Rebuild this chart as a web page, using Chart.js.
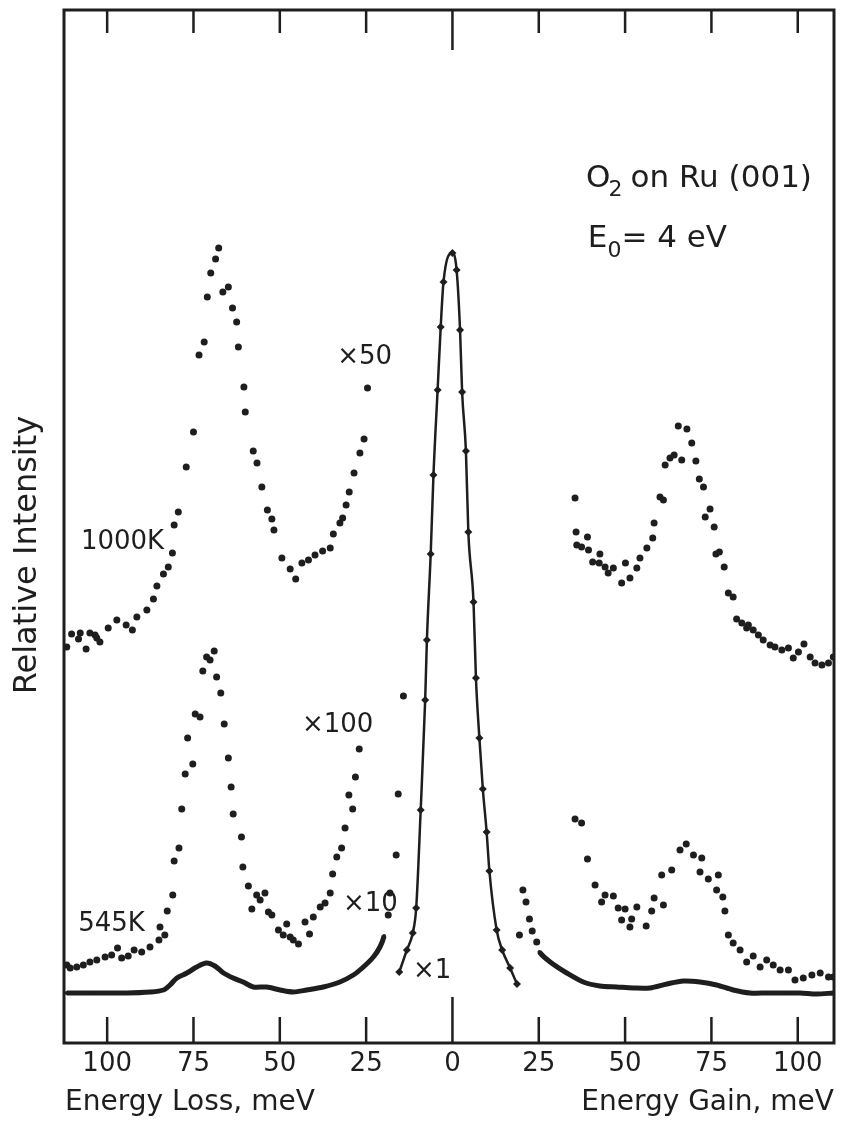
<!DOCTYPE html>
<html>
<head>
<meta charset="utf-8">
<script src="https://cdn.jsdelivr.net/npm/chart.js@4.4.0/dist/chart.umd.min.js"></script>
<style>
  html, body { margin: 0; padding: 0; background: #fff; }
</style>
</head>
<body>
<canvas id="myChart" width="846" height="1122"></canvas>
<script>
// EELS of O2 on Ru(001), E0 = 4 eV
// x = energy in meV (negative = loss side, positive = gain side), y = relative intensity (arb. units)
var tickValues = [-100, -75, -50, -25, 0, 25, 50, 75, 100];

// elastic peak, x1
var elastic = [[-15.4,7.1],[-13.2,9.3],[-11.5,11.0],[-10.5,13.5],[-9.2,23.3],[-7.9,34.3],[-7.4,40.3],[-6.3,48.9],
  [-5.5,56.8],[-4.3,65.3],[-3.4,71.6],[-2.6,76.1],[0,79.0],[1.2,77.3],[2.2,71.3],[2.8,65.1],[3.9,59.2],[4.6,51.1],
  [6.1,44.1],[6.8,36.5],[7.8,30.5],[8.8,25.4],[9.9,21.1],[10.7,17.2],[12.8,11.3],[14.4,9.3],[16.7,7.5],[18.7,5.9]];

// 1000 K, x50
var loss50 = [[-111.7,39.6],[-110.3,40.9],[-108.3,40.4],[-107.8,41.0],[-106.1,39.4],[-105.0,41.0],[-103.5,40.8],
  [-103.0,40.5],[-102.1,40.1],[-99.7,41.5],[-97.2,42.3],[-94.5,41.8],[-92.7,41.3],[-91.4,42.6],[-88.5,43.3],
  [-86.6,44.4],[-85.6,45.7],[-83.7,46.9],[-82.3,47.6],[-81.1,49.0],[-80.6,51.8],[-79.4,53.1],[-77.1,57.6],
  [-75.0,61.1],[-73.4,68.8],[-71.9,70.1],[-71.0,74.6],[-70.0,77.0],[-68.6,78.4],[-67.7,79.5],[-66.5,75.1],
  [-64.9,75.6],[-63.7,73.5],[-62.5,72.1],[-62.0,69.6],[-60.4,65.6],[-60.0,63.1],[-57.7,59.2],[-56.6,58.0],
  [-55.2,55.6],[-53.6,53.3],[-52.3,52.4],[-51.7,51.3],[-49.4,48.5],[-47.0,47.4],[-45.4,46.4],[-43.6,48.0],
  [-41.7,48.3],[-39.8,48.8],[-37.6,49.2],[-35.4,49.5],[-34.5,50.9],[-32.6,52.0],[-31.8,52.5],[-30.8,53.8],
  [-29.9,55.1],[-28.5,57.0],[-26.8,59.0],[-25.6,60.4],[-24.6,65.5]];
var gain50 = [[35.5,54.5],[35.8,51.1],[36.0,49.8],[37.4,49.6],[39.1,50.6],[39.4,49.3],[40.6,48.1],[42.5,48.0],
  [42.7,48.9],[44.2,47.6],[45.1,47.0],[46.6,47.5],[49.0,46.0],[50.1,48.0],[51.4,46.5],[53.4,47.5],[54.3,48.5],
  [56.3,49.5],[58.0,50.5],[58.4,52.0],[60.1,54.6],[61.1,54.3],[61.6,57.8],[63.0,58.5],[64.2,58.8],[65.4,61.7],
  [66.4,58.3],[67.9,61.4],[69.3,60.0],[70.5,58.2],[71.5,56.4],[72.7,55.6],[73.2,52.6],[74.6,53.4],[75.8,51.6],
  [76.3,48.9],[77.3,49.1],[78.7,47.6],[79.9,45.0],[81.3,44.6],[82.3,42.4],[83.8,42.0],[85.2,41.5],[85.7,41.8],
  [87.1,41.3],[88.6,40.8],[90.0,40.3],[92.0,39.8],[93.4,39.6],[95.4,39.3],[97.3,39.5],[98.7,38.5],[100.2,39.1],
  [101.8,39.9],[103.6,38.6],[105.0,38.0],[107.0,37.8],[108.9,38.0],[110.3,38.6]];

// 545 K, x100
var loss100 = [[-111.7,7.8],[-110.7,7.5],[-108.8,7.6],[-106.9,7.8],[-105.0,8.1],[-103.0,8.3],[-100.6,8.6],
  [-98.7,8.8],[-97.0,9.5],[-95.8,8.5],[-93.9,8.7],[-92.2,9.3],[-90.0,9.1],[-87.6,9.6],[-85.0,10.3],[-84.7,11.6],
  [-83.3,10.8],[-82.6,13.2],[-81.0,14.8],[-80.6,18.2],[-79.2,19.5],[-78.4,23.4],[-77.4,26.9],[-76.7,30.5],
  [-75.2,27.9],[-74.5,32.9],[-73.1,32.6],[-72.3,37.2],[-71.2,38.6],[-70.2,38.3],[-69.0,39.2],[-68.3,36.6],
  [-67.1,35.0],[-66.1,31.9],[-64.9,28.5],[-64.1,25.6],[-63.5,22.9],[-61.1,20.6],[-60.7,17.6],[-59.1,15.7],
  [-58.1,13.4],[-56.7,14.8],[-55.7,14.3],[-54.3,15.0],[-53.3,13.1],[-52.3,12.8],[-50.4,11.3],[-49.0,10.8],
  [-48.0,11.9],[-47.0,10.6],[-46.1,10.3],[-44.6,9.9],[-42.7,12.1],[-41.4,10.9],[-40.3,12.6],[-38.3,13.6],
  [-36.9,14.0],[-35.4,15.0],[-34.7,16.9],[-33.5,18.6],[-32.1,19.5],[-31.1,21.5],[-30.0,24.8],[-28.9,23.4],
  [-28.1,26.6],[-27.0,29.4]];
var gain100 = [[35.5,22.4],[37.4,22.0],[39.1,18.4],[41.3,15.8],[43.2,14.1],[44.2,14.8],[46.6,14.7],[48.0,13.5],
  [49.0,12.3],[50.0,13.4],[51.4,11.6],[51.9,12.4],[53.4,13.6],[56.1,11.7],[57.7,13.2],[58.4,14.5],[60.6,16.8],
  [61.1,13.8],[63.5,17.3],[65.9,19.3],[67.7,19.9],[69.8,18.8],[71.7,17.1],[72.2,18.5],[74.1,16.4],[76.5,15.3],
  [77.0,16.8],[78.3,14.6],[78.9,13.2],[79.9,10.8],[81.3,10.0],[83.3,9.3],[85.2,8.1],[87.1,8.7],[89.1,7.6],
  [91.0,8.3],[92.9,7.8],[94.9,7.3],[97.3,7.3],[99.2,6.3],[101.6,6.5],[104.1,6.8],[106.5,7.0],[108.9,6.6],
  [110.3,6.6]];

// 545 K, x10
var loss10 = [[-111.7,5.0],[-104.0,5.0],[-94.3,5.0],[-87.6,5.1],[-83.7,5.3],[-81.8,5.8],[-79.8,6.5],[-76.9,7.0],
  [-74.1,7.6],[-71.2,8.0],[-68.8,7.7],[-66.3,7.0],[-63.5,6.5],[-60.6,6.1],[-57.7,5.6],[-53.8,5.6],[-49.9,5.3],
  [-46.1,5.1],[-42.2,5.3],[-37.4,5.6],[-32.6,6.1],[-28.7,6.8],[-25.8,7.6],[-22.9,8.6],[-21.0,9.6],[-19.8,10.7],
  [-18.6,12.8],[-18.1,15.0],[-16.3,18.8],[-15.7,24.9],[-14.2,34.7]];
var gain10 = [[19.4,10.8],[20.4,15.3],[21.3,14.1],[22.3,12.4],[23.1,11.2],[24.4,10.1],[25.2,9.1],[28.3,8.1],
  [33.1,7.0],[37.9,6.1],[42.7,5.7],[47.6,5.6],[52.4,5.5],[57.2,5.5],[62.1,5.9],[66.9,6.2],[71.7,6.1],[76.5,5.8],
  [81.3,5.3],[86.2,5.0],[91.0,5.0],[95.8,5.0],[100.7,5.0],[105.5,4.9],[110.3,5.0]];

var ink = '#1e1e1e';
var font = "'DejaVu Sans', sans-serif";

function pts(arr) {
  return arr.map(function (p) { return { x: p[0], y: p[1] }; });
}

function dots(arr) {
  return {
    data: pts(arr), showLine: false, pointRadius: 3.5, pointBackgroundColor: ink,
    pointBorderWidth: 0, pointHoverRadius: 3.5
  };
}

// x10 curves: the dense run is a solid band, the part close to the elastic peak is loose dots
var loss10Dense = 25, gain10Dense = 6;

var datasets = [
  dots(loss50), dots(gain50), dots(loss100), dots(gain100),
  {
    data: pts(loss10), showLine: true, borderColor: ink, borderWidth: 5, tension: 0.3,
    pointBackgroundColor: ink, pointBorderWidth: 0,
    pointRadius: function (c) { return c.dataIndex > loss10Dense ? 3.5 : 2; },
    segment: { borderColor: function (c) { return c.p1DataIndex > loss10Dense ? 'transparent' : ink; } }
  },
  {
    data: pts(gain10), showLine: true, borderColor: ink, borderWidth: 5, tension: 0.3,
    pointBackgroundColor: ink, pointBorderWidth: 0,
    pointRadius: function (c) { return c.dataIndex < gain10Dense ? 3.5 : 2; },
    segment: { borderColor: function (c) { return c.p0DataIndex < gain10Dense ? 'transparent' : ink; } }
  },
  {
    data: pts(elastic), showLine: true, borderColor: ink, borderWidth: 2.5,
    cubicInterpolationMode: 'monotone',
    pointStyle: 'rectRot', pointRadius: 4, pointBackgroundColor: ink, pointBorderWidth: 0
  }
];

// text labels placed in data coordinates
var notes = [
  { text: '1000K', x: -107.6, y: 50.1 },
  { text: '×50', x: -33.4, y: 68.6 },
  { text: '×100', x: -43.6, y: 31.8 },
  { text: '545K', x: -108.4, y: 11.9 },
  { text: '×10', x: -31.7, y: 13.9 },
  { text: '×1', x: -11.4, y: 7.2 }
];

var framePlugin = {
  id: 'frame',
  afterDraw: function (chart) {
    var ctx = chart.ctx, a = chart.chartArea;
    var xs = chart.scales.x, ys = chart.scales.y;
    ctx.save();
    ctx.strokeStyle = ink;
    ctx.fillStyle = ink;
    ctx.lineWidth = 3;
    ctx.strokeRect(a.left, a.top, a.right - a.left, a.bottom - a.top);

    // inward ticks, top and bottom, longer at zero
    ctx.lineWidth = 2.5;
    tickValues.forEach(function (v) {
      var px = xs.getPixelForValue(v);
      var topLen = v === 0 ? 40 : 23;
      var botLen = v === 0 ? 46 : 26;
      ctx.beginPath();
      ctx.moveTo(px, a.top); ctx.lineTo(px, a.top + topLen);
      ctx.moveTo(px, a.bottom); ctx.lineTo(px, a.bottom - botLen);
      ctx.stroke();
    });

    // tick labels
    ctx.font = '26px ' + font;
    ctx.textAlign = 'center';
    ctx.textBaseline = 'middle';
    tickValues.forEach(function (v) {
      ctx.fillText(String(Math.abs(v)), xs.getPixelForValue(v), a.bottom + 21);
    });

    // axis titles
    ctx.font = '28px ' + font;
    ctx.textBaseline = 'alphabetic';
    ctx.textAlign = 'left';
    ctx.fillText('Energy Loss, meV', a.left + 1, a.bottom + 67);
    ctx.textAlign = 'right';
    ctx.fillText('Energy Gain, meV', a.right, a.bottom + 67);

    ctx.save();
    ctx.translate(28, 555);
    ctx.rotate(-Math.PI / 2);
    ctx.font = '32px ' + font;
    ctx.textAlign = 'center';
    ctx.textBaseline = 'middle';
    ctx.fillText('Relative Intensity', 0, 0);
    ctx.restore();

    // curve labels
    ctx.font = '26px ' + font;
    ctx.textAlign = 'left';
    ctx.textBaseline = 'middle';
    notes.forEach(function (n) {
      ctx.fillText(n.text, xs.getPixelForValue(n.x), ys.getPixelForValue(n.y));
    });

    // sample / beam energy
    var x0 = xs.getPixelForValue(38.7), y0 = ys.getPixelForValue(85.6);
    ctx.textBaseline = 'alphabetic';
    ctx.font = '31px ' + font;
    ctx.fillText('O', x0, y0);
    var w = ctx.measureText('O').width;
    ctx.font = '22px ' + font;
    ctx.fillText('2', x0 + w - 2, y0 + 9);
    ctx.font = '31px ' + font;
    ctx.fillText('on Ru (001)', x0 + w + 20, y0);

    var x1 = xs.getPixelForValue(39.2), y1 = ys.getPixelForValue(79.6);
    ctx.fillText('E', x1, y1);
    w = ctx.measureText('E').width;
    ctx.font = '22px ' + font;
    ctx.fillText('0', x1 + w, y1 + 10);
    var w2 = ctx.measureText('0').width;
    ctx.font = '31px ' + font;
    ctx.fillText('= 4 eV', x1 + w + w2, y1);
    ctx.restore();
  }
};

var ctx = document.getElementById('myChart').getContext('2d');
var chart = new Chart(ctx, {
  type: 'scatter',
  data: { datasets: datasets },
  options: {
    responsive: false,
    animation: false,
    layout: { padding: { left: 64, right: 12, top: 10, bottom: 79 } },
    plugins: { legend: { display: false }, tooltip: { enabled: false } },
    scales: {
      x: { type: 'linear', min: -112.5, max: 110.5, display: false },
      y: { type: 'linear', min: 0, max: 103.3, display: false }
    }
  },
  plugins: [framePlugin]
});
</script>
</body>
</html>
